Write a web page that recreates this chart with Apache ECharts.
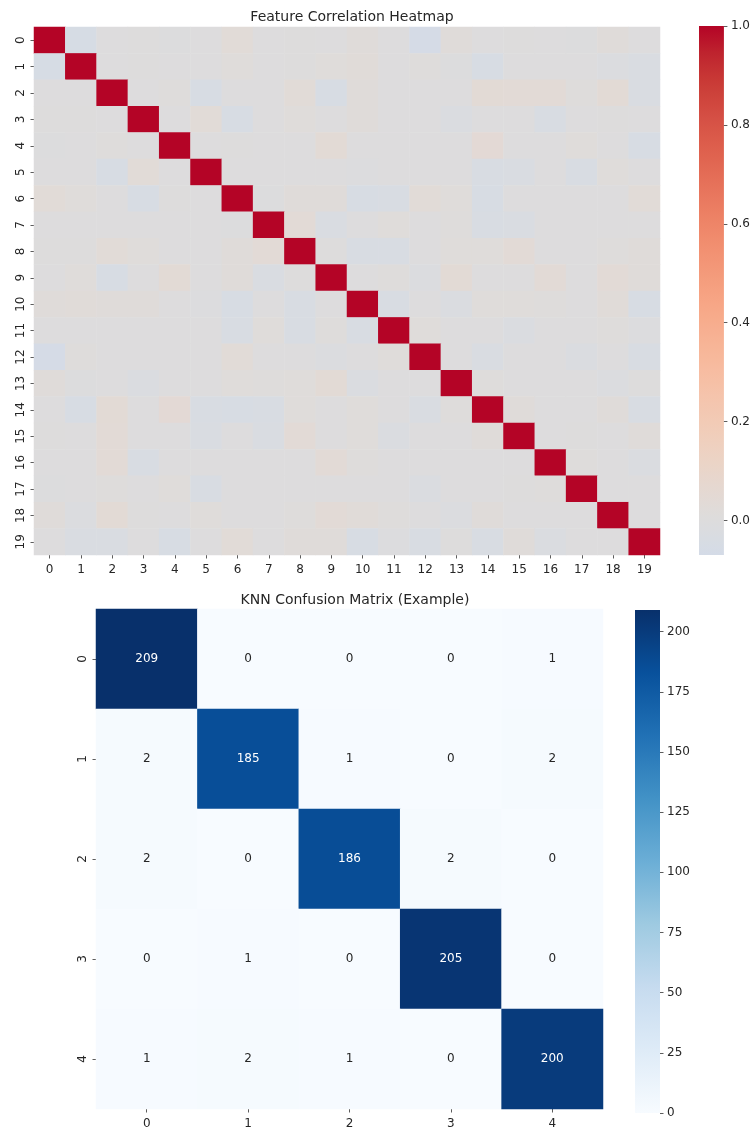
<!DOCTYPE html>
<html><head><meta charset="utf-8">
<script src="https://cdn.jsdelivr.net/npm/echarts@6/dist/echarts.min.js"></script>
<style>html,body{margin:0;padding:0;background:#fff}#c{width:753px;height:1130px}</style>
</head><body><div id="c"></div>
<script>
// ---------- DATA ----------
const featureLabels = ['0','1','2','3','4','5','6','7','8','9','10','11','12','13','14','15','16','17','18','19'];
// upper triangle of the correlation matrix: corrUpper[r] = values for columns r+1..19
const corrUpper = [
  [-0.05,0.00,0.005,-0.005,0.00,0.03,0.00,0.005,0.00,0.02,0.00,-0.06,0.02,0.00,0.005,0.00,-0.005,0.02,0.00],
  [0.00,0.005,0.00,0.00,0.015,0.00,0.005,0.015,0.025,0.00,0.01,-0.005,-0.04,0.00,0.00,0.00,-0.015,-0.03],
  [0.00,0.01,-0.04,0.00,0.00,0.03,-0.045,0.02,0.00,0.00,0.00,0.04,0.035,0.035,0.01,0.04,-0.03],
  [0.00,0.03,-0.04,0.00,0.015,0.00,0.02,0.00,0.00,-0.02,0.00,0.00,-0.035,0.00,0.005,0.00],
  [0.00,0.005,0.00,0.00,0.04,0.00,0.00,0.00,0.00,0.045,0.00,0.00,0.015,0.00,-0.04],
  [0.00,0.00,0.00,0.00,-0.01,0.00,0.00,0.00,-0.035,-0.03,0.00,-0.035,0.015,0.00],
  [-0.005,0.02,0.02,-0.04,-0.035,0.03,0.015,-0.04,0.00,0.00,0.00,0.00,0.03],
  [0.035,-0.03,0.00,0.015,0.00,0.01,-0.035,-0.03,0.00,0.00,0.00,0.00],
  [0.005,-0.035,-0.035,0.00,0.015,0.015,0.035,0.00,0.00,0.01,0.02],
  [0.00,0.01,-0.015,0.04,0.00,0.00,0.035,0.00,0.035,0.02],
  [-0.035,0.00,-0.025,0.015,0.015,0.01,0.00,0.025,-0.04],
  [0.015,0.00,0.00,-0.025,0.00,0.00,0.01,-0.01],
  [0.00,-0.03,0.00,0.00,-0.025,0.00,-0.035],
  [0.01,0.00,0.00,0.00,-0.015,0.005],
  [0.02,0.00,0.00,0.02,-0.035],
  [0.00,0.005,0.00,0.02],
  [0.01,0.00,-0.02],
  [0.00,0.00],
  [0.00]
];
const corrTicks = [0.0,0.2,0.4,0.6,0.8,1.0];
const corrMin = -0.07, corrMax = 1.0;

const classLabels = ['0','1','2','3','4'];
const confRow0 = [209,0,0,0,1];
const confRow1 = [2,185,1,0,2];
const confRow2 = [2,0,186,2,0];
const confRow3 = [0,1,0,205,0];
const confRow4 = [1,2,1,0,200];
const confTicks = [0,25,50,75,100,125,150,175,200];
const confMin = 0, confMax = 209;

// ---------- COLOR MAPS ----------
const coolwarm = [[59,76,192],[68,90,204],[77,104,215],[87,117,225],[98,130,234],[108,142,241],[119,154,247],[130,165,251],[141,176,254],[152,185,255],[163,194,255],[174,201,253],[184,208,249],[194,213,244],[204,217,238],[213,219,230],[221,221,221],[229,216,209],[236,211,197],[241,204,184],[245,196,172],[247,187,159],[247,177,147],[247,166,134],[244,154,123],[241,141,111],[236,127,99],[229,112,89],[222,96,77],[213,80,69],[203,62,56],[192,40,47],[180,4,38]];
function sample(tab, t){
  t = Math.max(0, Math.min(1, t));
  const p = t*(tab.length-1), i = Math.min(Math.floor(p), tab.length-2), f = p - i;
  const c = tab[i].map((v,k)=>Math.round(v + (tab[i+1][k]-v)*f));
  return 'rgb('+c.join(',')+')';
}
const corrColors = [];
for (let i=0;i<=40;i++){ const v = corrMin + (corrMax-corrMin)*i/40; corrColors.push(sample(coolwarm,(v+1)/2)); }
const blues = ['#f7fbff','#deebf7','#c6dbef','#9ecae1','#6baed6','#4292c6','#2171b5','#08519c','#08306b'];
function gradient(colors){
  return new echarts.graphic.LinearGradient(0,1,0,0, colors.map((c,i)=>({offset:i/(colors.length-1), color:c})));
}

// ---------- BUILD ----------
const n = featureLabels.length;
const corrData = [];
for (let r=0;r<n;r++) for (let c=0;c<n;c++){
  let v;
  if (r===c) v = 1.0;
  else if (c>r) v = corrUpper[r][c-r-1];
  else v = corrUpper[c][r-c-1];
  corrData.push([c, r, v]);
}
const confRows = [confRow0,confRow1,confRow2,confRow3,confRow4];
const confData = [];
confRows.forEach((row,r)=>row.forEach((v,c)=>{
  confData.push({value:[c,r,v], label:{color: v > confMax*0.5 ? '#ffffff' : '#262626'}});
}));

const FONT = 'DejaVu Sans';
const TXT = '#262626';
function catAxis(gi, data, isY){
  const a = {
    type:'category', gridIndex:gi, data:data, inverse: !!isY,
    axisLine:{show:false, onZero:false},
    axisTick:{show:true, alignWithLabel:true, length:3.5, lineStyle:{color:'#333', width:0.8}},
    axisLabel:{fontFamily:FONT, fontSize:12, color:TXT, margin: isY ? 7 : 9},
    splitLine:{show:false}, splitArea:{show:false}
  };
  if (isY) a.axisLabel.rotate = 90;
  return a;
}
function barAxis(gi, min, max, ticks, fmt){
  return {
    type:'value', gridIndex:gi, position:'right', min:min, max:max,
    axisLine:{show:false, onZero:false}, splitLine:{show:false},
    axisTick:{show:true, length:3.5, customValues:ticks, lineStyle:{color:'#333', width:0.8}},
    axisLabel:{show:true, customValues:ticks, formatter:fmt, fontFamily:FONT, fontSize:12, color:TXT, margin:7}
  };
}
function hiddenX(gi){
  return {type:'value', gridIndex:gi, show:false, min:0, max:1,
    axisLine:{show:false, onZero:false}, axisTick:{show:false}, axisLabel:{show:false}, splitLine:{show:false}};
}

const chart = echarts.init(document.getElementById('c'), null, {renderer:'canvas'});
chart.setOption({
  backgroundColor:'#ffffff',
  animation:false,
  title:[
    {text:'Feature Correlation Heatmap', left:347, top:5, textAlign:'center',
     textStyle:{fontFamily:FONT, fontSize:14, fontWeight:'normal', color:TXT}},
    {text:'KNN Confusion Matrix (Example)', left:350, top:588, textAlign:'center',
     textStyle:{fontFamily:FONT, fontSize:14, fontWeight:'normal', color:TXT}}
  ],
  grid:[
    {left:34, top:27, width:626, height:528},
    {left:699, top:26, width:26, height:529, show:true, borderWidth:0, backgroundColor:gradient(corrColors)},
    {left:96, top:609, width:507, height:504},
    {left:635, top:610, width:25, height:503, show:true, borderWidth:0, backgroundColor:gradient(blues)}
  ],
  xAxis:[
    catAxis(0, featureLabels, false),
    hiddenX(1),
    catAxis(2, classLabels, false),
    hiddenX(3)
  ],
  yAxis:[
    catAxis(0, featureLabels, true),
    barAxis(1, corrMin, corrMax, corrTicks, v=>v.toFixed(1)),
    catAxis(2, classLabels, true),
    barAxis(3, confMin, confMax, confTicks, v=>String(Math.round(v)))
  ],
  visualMap:[
    {type:'continuous', show:false, seriesIndex:0, min:corrMin, max:corrMax, inRange:{color:corrColors}},
    {type:'continuous', show:false, seriesIndex:1, min:confMin, max:confMax, inRange:{color:blues}}
  ],
  series:[
    {type:'heatmap', xAxisIndex:0, yAxisIndex:0, data:corrData, itemStyle:{borderWidth:0}, emphasis:{disabled:true}},
    {type:'heatmap', xAxisIndex:2, yAxisIndex:2, data:confData, itemStyle:{borderWidth:0}, emphasis:{disabled:true},
     label:{show:true, fontFamily:FONT, fontSize:12, formatter:p=>String(p.value[2])}}
  ]
});
</script></body></html>
